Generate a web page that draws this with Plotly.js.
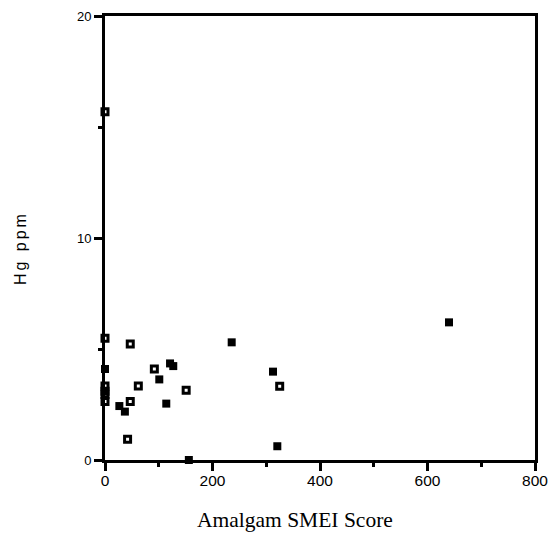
<!DOCTYPE html>
<html>
<head>
<meta charset="utf-8">
<script src="https://cdn.plot.ly/plotly-3.0.1.min.js"></script>
<style>
html,body{margin:0;padding:0;background:#fff;}
#chart{width:549px;height:535px;}
.ytitle-spaced text{letter-spacing:3px;}
</style>
</head>
<body>
<div id="chart"></div>
<script>
// Filled-square series
const filledX = [0, 26.7, 37, 101, 114, 121, 127, 156, 235.7, 312.6, 320.6, 640];
const filledY = [4.1, 2.43, 2.18, 3.63, 2.54, 4.35, 4.23, 0.0, 5.3, 3.98, 0.62, 6.2];
// Open-square series
const openX = [0, 0, 0, 0, 0, 0, 42, 47, 47, 62, 91.8, 151, 325];
const openY = [15.69, 5.48, 3.33, 3.1, 2.95, 2.63, 0.93, 5.23, 2.63, 3.33, 4.1, 3.14, 3.32];

const xTickVals = [0, 200, 400, 600, 800];
const yTickVals = [0, 10, 20];
const xTitle = "Amalgam SMEI Score";
const yTitle = "Hg ppm";

const traces = [
  {x: filledX, y: filledY, type: 'scatter', mode: 'markers', cliponaxis: false,
   marker: {symbol: 'square', size: 8, color: '#000', line: {width: 0}}},
  {x: openX, y: openY, type: 'scatter', mode: 'markers', cliponaxis: false,
   marker: {symbol: 'square-open', size: 6, color: '#000', line: {width: 3, color: '#000'}}}
];

const layout = {
  width: 549, height: 535,
  margin: {l: 105, r: 14, t: 16, b: 75},
  showlegend: false,
  paper_bgcolor: '#fff', plot_bgcolor: '#fff',
  xaxis: {
    range: [0, 800], tickvals: xTickVals, ticktext: xTickVals.map(String),
    showgrid: false, zeroline: false, showline: true, linewidth: 3, linecolor: '#000', mirror: true,
    ticks: 'outside', ticklen: 8, tickwidth: 3, tickcolor: '#000', ticklabelstandoff: -4,
    minor: {dtick: 100, tick0: 0, ticks: 'outside', ticklen: 4, tickwidth: 3, tickcolor: '#000', showgrid: false},
    tickfont: {family: 'Liberation Sans, Arial, sans-serif', size: 15.5, color: '#000'}
  },
  yaxis: {
    range: [0, 20], tickvals: yTickVals, ticktext: yTickVals.map(String),
    showgrid: false, zeroline: false, showline: true, linewidth: 3, linecolor: '#000', mirror: true,
    ticks: 'outside', ticklen: 8, tickwidth: 3, tickcolor: '#000',
    minor: {dtick: 5, tick0: 0, ticks: 'outside', ticklen: 4, tickwidth: 3, tickcolor: '#000', showgrid: false},
    tickfont: {family: 'Liberation Sans, Arial, sans-serif', size: 13, color: '#000'}
  },
  annotations: [
    {text: xTitle, xref: 'paper', yref: 'paper', x: 0.442, y: -0.135, xanchor: 'center', yanchor: 'middle',
     showarrow: false, font: {family: 'Liberation Serif, Times New Roman, serif', size: 21.5, color: '#000'}},
    {text: yTitle, xref: 'paper', yref: 'paper', x: -0.198, y: 0.477, xanchor: 'center', yanchor: 'middle',
     textangle: -90, showarrow: false, font: {family: 'Liberation Sans, Arial, sans-serif', size: 16, color: '#000'}}
  ]
};

Plotly.newPlot('chart', traces, layout, {displayModeBar: false, staticPlot: true}).then(function(gd){
  const anns = gd.querySelectorAll('.annotation');
  if (anns.length > 1) anns[1].classList.add('ytitle-spaced');
});
</script>
</body>
</html>
